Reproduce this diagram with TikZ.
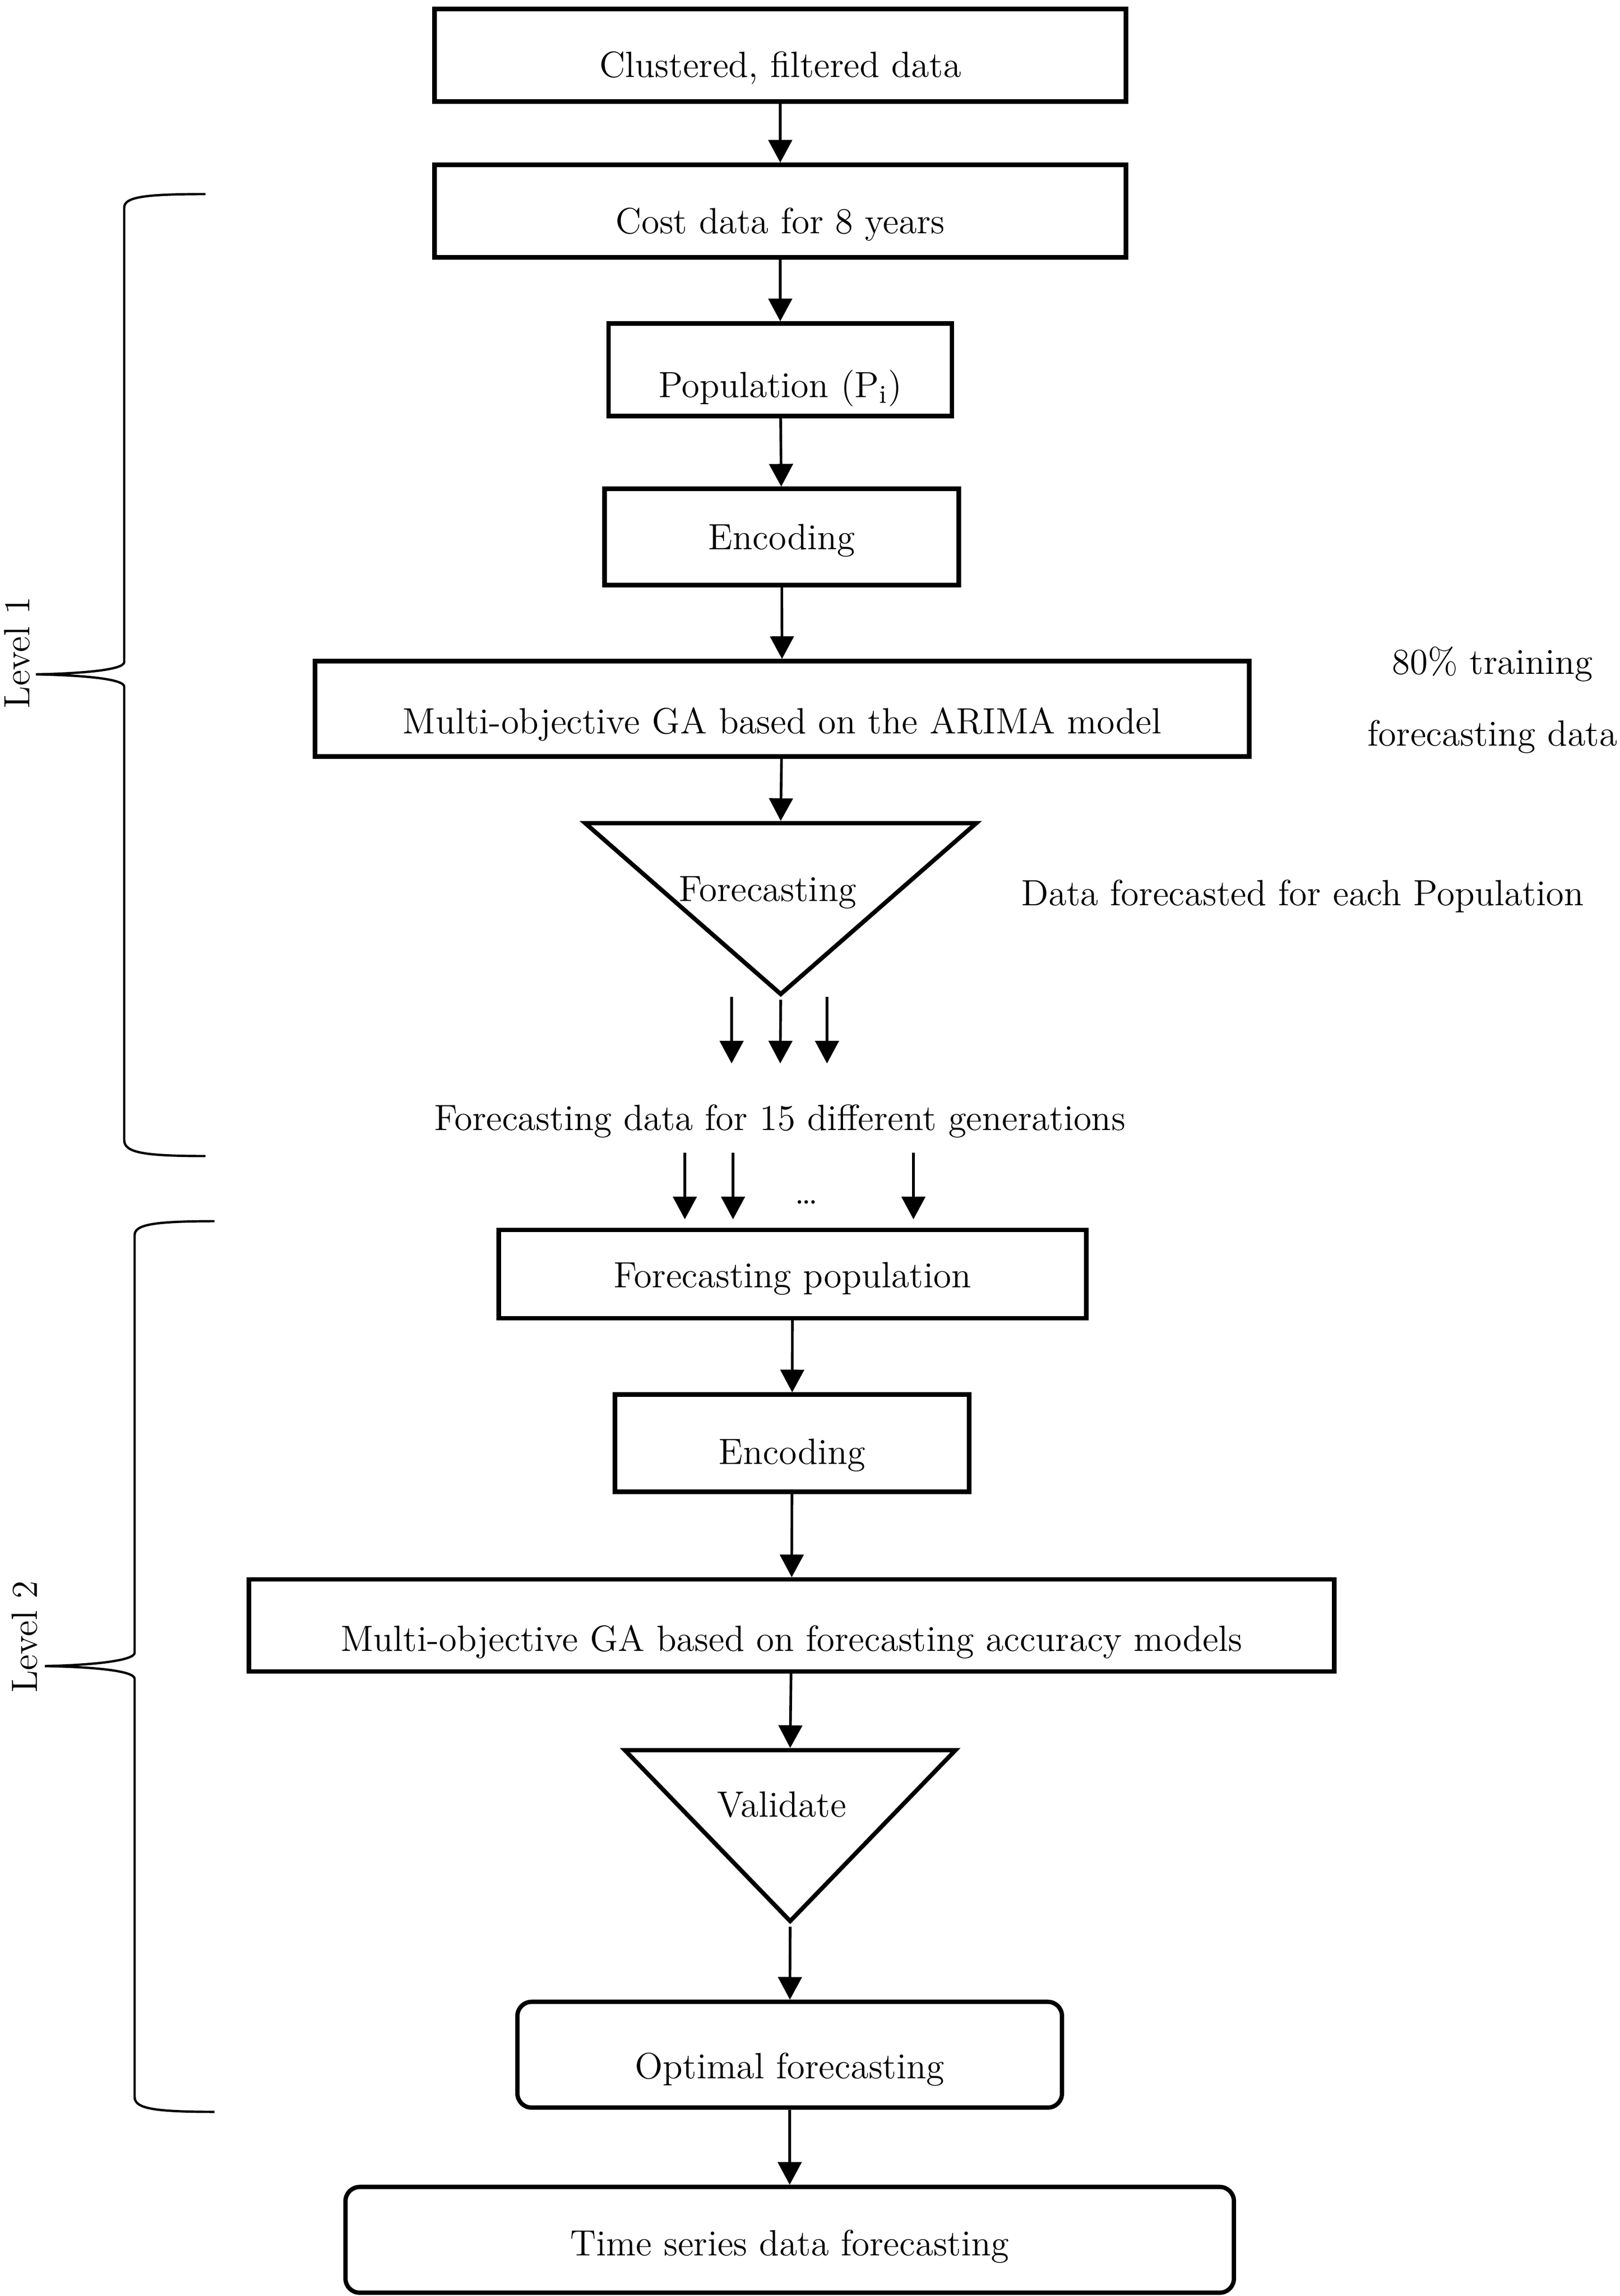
\documentclass[tikz,border=0pt]{standalone}
\usetikzlibrary{positioning,arrows.meta}
\usetikzlibrary{shapes.geometric}
\tikzset{
    >={Triangle[length=2.4mm,width=2.5mm]}, % filled arrow heads
    every node/.style={font=\fontsize{11}{13}\selectfont}, % text size
    box/.style={draw, line width=1.3pt, inner sep=0pt, minimum height=0.98cm, text height=0.56cm, text depth=0.08cm}, % a step of the flow
    rbox/.style={box, rounded corners=0.15cm}, % last two steps
    tri/.style={isosceles triangle, isosceles triangle stretches, shape border rotate=-90, draw, line width=1.3pt, inner sep=0pt}, % forecast and check
    brace/.style={line width=0.7pt}, % the level braces
}

\begin{document}
\begin{tikzpicture}[line width=0.8pt]
  \useasboundingbox (0,0) rectangle (17.15,-24.31);

  % Level 1
  \node[box, minimum width=7.32cm, text height=0.55cm] (b_0) at (8.26,-0.585) {Clustered, filtered data};
  \node[box, minimum width=7.32cm] (b_1) at (8.26,-2.235) {Cost data for 8 years};
  \node[box, minimum width=3.635cm, text height=0.67cm] (b_2) at (8.26,-3.915) {Population (P\textsubscript{i})};
  \node[box, minimum width=3.75cm, minimum height=1.02cm, text height=0.34cm] (b_3) at (8.275,-5.685) {Encoding};
  \node[box, minimum width=9.89cm, minimum height=1.01cm, text height=0.6cm] (b_4) at (8.28,-7.505) {Multi-objective GA based on the ARIMA model};
  % text sits near the base
  \node[tri, minimum width=4.14cm, minimum height=1.81cm, anchor=apex,
      label={[name=t_1, anchor=center, xshift=-0.14cm, yshift=-0.76cm]north:Forecasting}] (T1) at (8.265,-10.585) {};

  \node (tr_1) at (15.8,-7.03) {80\% training};
  \node (tr_2) at (15.8,-7.8) {forecasting data};
  \node (df) at (13.79,-9.49) {Data forecasted for each Population};

  \coordinate (s_1) at (7.745,-10.555);
  \coordinate (e_1) at (7.745,-11.26);
  \coordinate (e_2) at (8.26,-11.26);
  \coordinate (s_3) at (8.755,-10.555);
  \coordinate (e_3) at (8.755,-11.26);

  \node (gen) at (8.255,-11.87) {Forecasting data for 15 different generations};

  \coordinate (s_4) at (7.25,-12.205);
  \coordinate (e_4) at (7.25,-12.91);
  \coordinate (s_5) at (7.76,-12.205);
  \coordinate (e_5) at (7.76,-12.91);
  \coordinate (s_6) at (9.67,-12.205);
  \coordinate (e_6) at (9.67,-12.91);
  \node (dots) at (8.535,-12.73) {\dots};

  % Level 2
  \node[box, minimum width=6.22cm, minimum height=0.935cm, text height=0.36cm] (b_5) at (8.39,-13.49) {Forecasting population};
  \node[box, minimum width=3.75cm, minimum height=1.03cm, text height=0.52cm] (b_6) at (8.385,-15.28) {Encoding};
  \node[box, minimum width=11.49cm, minimum height=0.975cm, text height=0.62cm] (b_7) at (8.38,-17.21) {Multi-objective GA based on forecasting accuracy models};
  \node[tri, minimum width=3.5cm, minimum height=1.81cm, anchor=apex,
      label={[name=t_2, anchor=center, xshift=-0.09cm, yshift=-0.6cm]north:Validate}] (T2) at (8.365,-20.4) {};
  \node[rbox, minimum width=5.765cm, minimum height=1.12cm, text height=0.58cm] (b_8) at (8.36,-21.755) {Optimal forecasting};
  \node[rbox, minimum width=9.405cm, minimum height=1.12cm, text height=0.41cm] (b_9) at (8.36,-23.715) {Time series data forecasting};

  \node[rotate=90] (l_1) at (0.18,-6.91) {Level 1};
  \node[rotate=90] (l_2) at (0.26,-17.33) {Level 2};

  % braces
  \draw[brace] (2.175,-2.055) .. controls (1.5,-2.055) and (1.315,-2.09) .. (1.315,-2.2)
    -- (1.315,-7.01) .. controls (1.315,-7.09) and (0.9,-7.13) .. (0.38,-7.14)
    .. controls (0.9,-7.15) and (1.315,-7.19) .. (1.315,-7.27)
    -- (1.315,-12.07) .. controls (1.315,-12.2) and (1.5,-12.24) .. (2.175,-12.24);
  \draw[brace] (2.27,-12.93) .. controls (1.6,-12.93) and (1.425,-12.97) .. (1.425,-13.08)
    -- (1.425,-17.5) .. controls (1.425,-17.58) and (1.0,-17.63) .. (0.475,-17.64)
    .. controls (1.0,-17.65) and (1.425,-17.69) .. (1.425,-17.775)
    -- (1.425,-22.2) .. controls (1.425,-22.32) and (1.6,-22.36) .. (2.27,-22.36);

  \path[->]
    (b_0) edge (b_1)
    (b_1) edge (b_2)
    (b_2) edge (b_3)
    (b_3) edge (b_4)
    (b_4) edge (T1.north)
    (s_1) edge (e_1)
    (T1.apex) edge (e_2)
    (s_3) edge (e_3)
    (s_4) edge (e_4)
    (s_5) edge (e_5)
    (s_6) edge (e_6)
    (b_5) edge (b_6)
    (b_6) edge (b_7)
    (b_7) edge (T2.north)
    (T2.apex) edge (b_8)
    (b_8) edge (b_9);
\end{tikzpicture}
\end{document}
